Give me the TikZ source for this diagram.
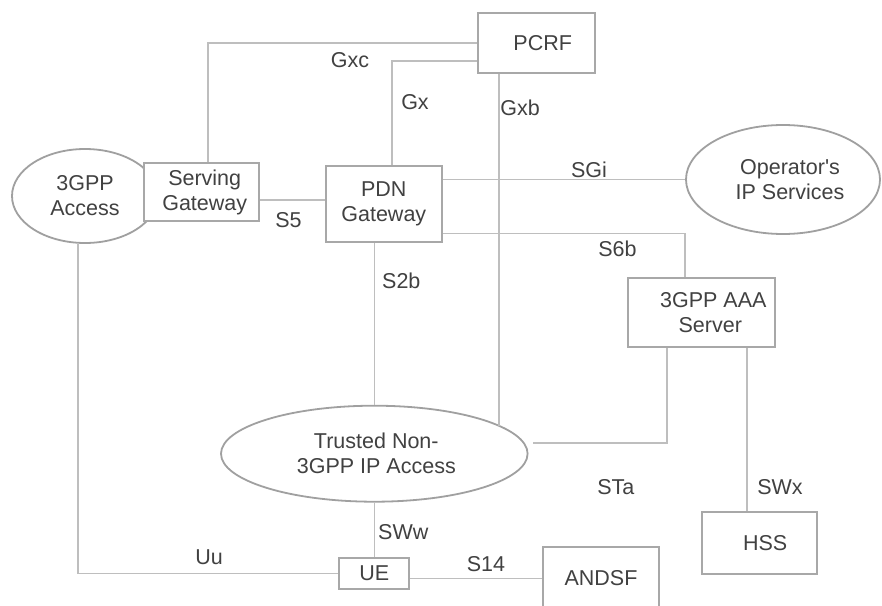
\documentclass[tikz,border=0pt]{standalone}
\usepackage{fontspec}
\setmainfont{Liberation Sans}
\usetikzlibrary{shapes.geometric,calc}
\definecolor{txtgray}{RGB}{65,65,65}
\definecolor{boxgray}{RGB}{168,168,168}
\definecolor{ellgray}{RGB}{160,160,160}
\definecolor{linegray}{RGB}{190,190,190}
\begin{document}
\begin{tikzpicture}[x=1pt,y=-1pt,
  txtfont/.style={font=\fontsize{21.5}{25}\selectfont, text=txtgray},
  boxnode/.style={txtfont, draw=boxgray, line width=2.2pt, fill=white, inner sep=0pt, align=center},
  ellnode/.style={txtfont, ellipse, draw=ellgray, line width=1.8pt, fill=white, inner sep=0pt, align=center},
  lbl/.style={txtfont, inner sep=0pt},
  conn/.style={draw=linegray, line width=1.6pt}]
\useasboundingbox (0,0) rectangle (882,605);
\fill[white] (0,0) rectangle (882,605);

% ellipses
\node[ellnode, minimum width=146pt, minimum height=94pt] (access) at (85,196) {3GPP\\Access};
\node[ellnode, minimum width=194pt, minimum height=109pt] (op) at (783,179.5) {\hspace*{14pt}Operator\textquotesingle s\\\hspace*{14pt}IP Services};
\node[ellnode, minimum width=306.6pt, minimum height=96pt] (trusted) at (374.3,453.7) {\hspace*{4pt}Trusted Non-\\\hspace*{4pt}3GPP IP Access};

% boxes
\node[boxnode, minimum width=116.7pt, minimum height=60pt] (pcrf) at (536.7,42.7) {\hspace*{12pt}PCRF};
\node[boxnode, minimum width=115.3pt, minimum height=57.7pt] (sgw) at (201.7,192) {\hspace*{6pt}Serving\\\hspace*{6pt}Gateway};
\node[boxnode, minimum width=115.7pt, minimum height=76pt] (pdn) at (383.8,203.7) {PDN\\Gateway};
\node[boxnode, minimum width=147.3pt, minimum height=68.3pt] (aaa) at (701.3,312.5) {\hspace*{24pt}3GPP AAA\\\hspace*{18pt}Server};
\node[boxnode, minimum width=115pt, minimum height=62pt] (hss) at (759.2,543.3) {\hspace*{12pt}HSS};
\node[boxnode, minimum width=70.3pt, minimum height=31.6pt] (ue) at (374.2,573.5) {UE};
\node[boxnode, minimum width=115.4pt, minimum height=63.3pt] (andsf) at (601,578.3) {ANDSF};

% x positions of vertical connectors
\coordinate (gxcx) at (207.7,0);
\coordinate (gxx) at (392,0);
\coordinate (gxbx) at (498.8,0);
\coordinate (s6bx) at (685,0);
\coordinate (stax) at (666.7,0);
\coordinate (swxx) at (746.7,0);
\coordinate (uux) at (77.7,0);

% connectors
\draw[conn] (sgw.north -| gxcx) |- (pcrf.west);
\draw[conn] (pdn.north -| gxx) |- ($(pcrf.west)+(0,18.3)$);
\draw[conn] (pcrf.south -| gxbx) -- (trusted.12.5 -| gxbx);
\draw[conn] ($(sgw.east)+(0,8)$) coordinate (s5a) -- (s5a -| pdn.west);
\draw[conn] (op.west -| pdn.east) -- (op.west);
\draw[conn] ($(pdn.east)+(0,29.6)$) -| (aaa.north -| s6bx);
\draw[conn] (trusted.north |- pdn.south) -- (trusted.north);
\draw[conn] (aaa.south -| stax) |- ($(trusted.east)+(4,-11)$);
\draw[conn] (aaa.south -| swxx) -- (hss.north -| swxx);
\draw[conn] (trusted.south) -- (ue.north -| trusted.south);
\draw[conn] (access.south -| uux) |- (ue.west);
\draw[conn] (andsf.west -| ue.east) -- (andsf.west);

% labels
\node[lbl] (lgxc) at (350,60) {Gxc};
\node[lbl] (lgx) at (415,102) {Gx};
\node[lbl] (lgxb) at (520,108) {Gxb};
\node[lbl] (ls5) at (288.5,220) {S5};
\node[lbl] (lsgi) at (589,170) {SGi};
\node[lbl] (ls6b) at (617.5,249) {S6b};
\node[lbl] (ls2b) at (401.3,281) {S2b};
\node[lbl] (lsta) at (615.8,487.5) {STa};
\node[lbl] (lswx) at (780,487.5) {SWx};
\node[lbl] (lsww) at (403.3,531.7) {SWw};
\node[lbl] (luu) at (209,556.7) {Uu};
\node[lbl] (ls14) at (486,564) {S14};
\end{tikzpicture}
\end{document}
